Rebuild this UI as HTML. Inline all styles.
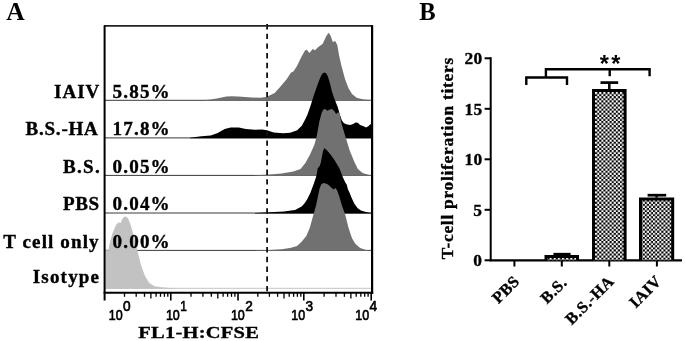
<!DOCTYPE html>
<html lang="en">
<head>
<meta charset="utf-8">
<title>Figure</title>
<style>
html,body{margin:0;padding:0;background:#fff;}
body{width:685px;height:341px;overflow:hidden;}
svg{display:block;}
</style>
</head>
<body>
<svg width="685" height="341" viewBox="0 0 685 341">
<defs><pattern id="chk" x="595.1" y="92.05" width="4.14" height="4.14" patternUnits="userSpaceOnUse"><rect width="4.14" height="4.14" fill="#000"/><rect x="0" y="0" width="2.07" height="2.07" fill="#fff"/><rect x="2.07" y="2.07" width="2.07" height="2.07" fill="#fff"/></pattern></defs>
<rect width="685" height="341" fill="#fff"/>
<g id="panelA">
<line x1="104.6" y1="100.3" x2="372.0" y2="100.3" stroke="#3a3a3a" stroke-width="1"/>
<path d="M205.0,100.0L210.6,99.6L218.0,98.3L226.4,96.6L231.7,96.2L238.0,96.6L244.9,97.1L252.0,97.5L260.7,97.8L266.0,97.0L270.0,95.3L274.7,93.0L280.5,86.4L286.4,79.4L291.1,72.6L293.4,71.4L297.0,66.0L301.6,56.6L305.2,50.3L306.8,49.8L309.4,53.1L312.7,48.9L315.0,50.3L318.0,47.3L322.7,43.7L326.2,36.2L328.6,32.7L330.5,35.5L332.8,41.9L335.2,40.9L337.3,44.9L339.1,55.5L341.5,66.0L345.0,78.9L348.5,88.3L352.0,94.1L356.7,97.7L363.7,99.5L371.0,100.0L371.0,100.7L205.0,100.7Z" fill="#717171"/>
<line x1="104.6" y1="137.9" x2="372.0" y2="137.9" stroke="#3a3a3a" stroke-width="1"/>
<path d="M190.0,137.7L201.4,136.3L210.7,135.4L217.7,133.0L224.7,129.1L230.6,127.4L238.8,127.4L245.8,129.1L255.1,129.8L262.1,129.5L266.8,130.2L273.8,132.6L283.1,133.3L290.2,132.8L297.2,130.2L301.8,125.8L305.0,119.7L307.5,114.4L310.3,106.5L313.2,97.3L316.2,88.6L319.2,80.2L321.2,75.4L322.8,73.2L324.4,72.5L326.1,73.3L327.8,76.2L329.8,82.8L331.9,91.2L333.9,97.5L335.6,101.7L337.7,107.0L339.8,114.4L341.9,120.5L344.0,123.2L347.2,124.5L350.3,124.9L353.5,123.7L355.6,122.6L357.7,122.8L360.2,124.9L363.0,126.0L366.1,127.5L368.3,126.2L370.4,124.2L371.8,123.8L371.8,137.7L371.8,138.3L190.0,138.3Z" fill="#000"/>
<line x1="104.6" y1="175.4" x2="372.0" y2="175.4" stroke="#3a3a3a" stroke-width="1"/>
<path d="M255.0,175.3L270.0,174.5L281.7,173.6L293.4,171.5L300.5,169.1L305.2,163.3L309.8,155.1L314.5,144.5L316.9,135.2L319.2,122.3L321.6,112.9L323.4,109.4L325.1,108.9L327.4,110.8L329.8,109.4L332.1,108.9L334.4,111.2L336.1,114.1L338.0,112.2L339.6,113.6L341.5,123.4L345.0,135.2L349.7,150.4L354.4,162.1L357.9,169.1L362.6,173.1L368.4,174.7L371.5,175.3L371.5,175.8L255.0,175.8Z" fill="#717171"/>
<line x1="104.6" y1="213.0" x2="372.0" y2="213.0" stroke="#3a3a3a" stroke-width="1"/>
<path d="M255.0,213.0L270.0,212.2L284.0,211.5L291.0,210.6L295.0,210.0L298.3,208.2L301.6,206.5L304.2,203.8L307.1,199.4L310.4,192.8L313.7,184.0L315.9,177.4L317.0,173.0L317.7,168.2L319.7,166.0L321.0,162.0L322.1,155.4L323.2,150.6L324.5,148.1L325.8,149.2L328.0,151.4L331.3,155.4L334.6,160.3L337.3,164.7L339.5,168.6L341.2,173.0L343.0,177.4L345.2,182.3L346.9,185.1L347.8,188.9L349.6,192.8L351.8,198.3L354.4,203.8L357.7,208.2L361.0,210.4L365.0,211.8L371.5,213.0L371.5,213.4L255.0,213.4Z" fill="#000"/>
<line x1="104.6" y1="250.4" x2="372.0" y2="250.4" stroke="#3a3a3a" stroke-width="1"/>
<path d="M255.0,250.5L270.0,250.0L281.7,249.3L291.1,247.7L297.0,246.0L301.6,241.8L306.3,235.9L309.8,227.7L313.4,214.8L315.9,206.0L317.0,201.0L318.3,194.5L319.7,188.0L321.4,184.2L323.6,183.0L325.8,183.6L328.0,184.6L330.2,186.4L332.0,188.2L333.5,189.5L335.4,188.0L337.0,190.3L339.3,196.5L341.0,202.5L342.6,207.4L345.0,213.7L348.5,227.7L352.0,238.3L355.5,244.1L360.2,248.1L366.1,250.0L371.5,250.5L371.5,250.8L255.0,250.8Z" fill="#717171"/>
<line x1="104.6" y1="288.3" x2="372.0" y2="288.3" stroke="#c4c4c4" stroke-width="1"/>
<path d="M105.4,288.2L105.4,251.2L106.9,248.5L108.2,251.2L109.5,244.6L112.2,234.0L116.1,224.8L118.7,222.2L120.6,222.9L122.7,218.2L125.3,216.3L128.0,218.2L130.6,224.8L133.3,234.0L137.2,249.9L141.2,265.7L145.1,276.2L149.1,282.8L154.4,286.3L163.6,287.6L174.2,288.2L174.2,288.7L105.4,288.7Z" fill="#c2c2c2"/>
<line x1="267.1" y1="24.0" x2="267.1" y2="292" stroke="#111" stroke-width="1.8" stroke-dasharray="5.4 4.3"/>
<line x1="104" y1="25.9" x2="373" y2="25.9" stroke="#222" stroke-width="1.7"/>
<line x1="104.6" y1="25.3" x2="104.6" y2="300.4" stroke="#000" stroke-width="2"/>
<line x1="372.1" y1="25.3" x2="372.1" y2="293.8" stroke="#000" stroke-width="2.2"/>
<line x1="103.6" y1="292.8" x2="373.2" y2="292.8" stroke="#000" stroke-width="2.1"/>
<line x1="124.5" y1="292" x2="124.5" y2="296.8" stroke="#000" stroke-width="1.3"/>
<line x1="136.2" y1="292" x2="136.2" y2="296.8" stroke="#000" stroke-width="1.3"/>
<line x1="144.5" y1="292" x2="144.5" y2="296.8" stroke="#000" stroke-width="1.3"/>
<line x1="150.9" y1="292" x2="150.9" y2="298.4" stroke="#000" stroke-width="1.3"/>
<line x1="156.1" y1="292" x2="156.1" y2="296.8" stroke="#000" stroke-width="1.3"/>
<line x1="160.5" y1="292" x2="160.5" y2="296.8" stroke="#000" stroke-width="1.3"/>
<line x1="164.4" y1="292" x2="164.4" y2="296.8" stroke="#000" stroke-width="1.3"/>
<line x1="167.8" y1="292" x2="167.8" y2="296.8" stroke="#000" stroke-width="1.3"/>
<line x1="170.8" y1="292" x2="170.8" y2="300.4" stroke="#000" stroke-width="1.6"/>
<line x1="191.0" y1="292" x2="191.0" y2="296.8" stroke="#000" stroke-width="1.3"/>
<line x1="202.9" y1="292" x2="202.9" y2="296.8" stroke="#000" stroke-width="1.3"/>
<line x1="211.3" y1="292" x2="211.3" y2="296.8" stroke="#000" stroke-width="1.3"/>
<line x1="217.8" y1="292" x2="217.8" y2="298.4" stroke="#000" stroke-width="1.3"/>
<line x1="223.1" y1="292" x2="223.1" y2="296.8" stroke="#000" stroke-width="1.3"/>
<line x1="227.6" y1="292" x2="227.6" y2="296.8" stroke="#000" stroke-width="1.3"/>
<line x1="231.5" y1="292" x2="231.5" y2="296.8" stroke="#000" stroke-width="1.3"/>
<line x1="234.9" y1="292" x2="234.9" y2="296.8" stroke="#000" stroke-width="1.3"/>
<line x1="238.0" y1="292" x2="238.0" y2="300.4" stroke="#000" stroke-width="1.6"/>
<line x1="257.8" y1="292" x2="257.8" y2="296.8" stroke="#000" stroke-width="1.3"/>
<line x1="269.4" y1="292" x2="269.4" y2="296.8" stroke="#000" stroke-width="1.3"/>
<line x1="277.6" y1="292" x2="277.6" y2="296.8" stroke="#000" stroke-width="1.3"/>
<line x1="284.0" y1="292" x2="284.0" y2="298.4" stroke="#000" stroke-width="1.3"/>
<line x1="289.2" y1="292" x2="289.2" y2="296.8" stroke="#000" stroke-width="1.3"/>
<line x1="293.6" y1="292" x2="293.6" y2="296.8" stroke="#000" stroke-width="1.3"/>
<line x1="297.4" y1="292" x2="297.4" y2="296.8" stroke="#000" stroke-width="1.3"/>
<line x1="300.8" y1="292" x2="300.8" y2="296.8" stroke="#000" stroke-width="1.3"/>
<line x1="303.8" y1="292" x2="303.8" y2="300.4" stroke="#000" stroke-width="1.6"/>
<line x1="324.1" y1="292" x2="324.1" y2="296.8" stroke="#000" stroke-width="1.3"/>
<line x1="336.0" y1="292" x2="336.0" y2="296.8" stroke="#000" stroke-width="1.3"/>
<line x1="344.4" y1="292" x2="344.4" y2="296.8" stroke="#000" stroke-width="1.3"/>
<line x1="350.9" y1="292" x2="350.9" y2="298.4" stroke="#000" stroke-width="1.3"/>
<line x1="356.2" y1="292" x2="356.2" y2="296.8" stroke="#000" stroke-width="1.3"/>
<line x1="360.8" y1="292" x2="360.8" y2="296.8" stroke="#000" stroke-width="1.3"/>
<line x1="364.7" y1="292" x2="364.7" y2="296.8" stroke="#000" stroke-width="1.3"/>
<line x1="368.1" y1="292" x2="368.1" y2="296.8" stroke="#000" stroke-width="1.3"/>
<line x1="371.2" y1="292" x2="371.2" y2="300.4" stroke="#000" stroke-width="1.6"/>
</g>
<g font-family="'Liberation Sans', Arial, sans-serif" font-size="13.5" fill="#000" stroke="#000" stroke-width="0.65">
<text x="108.7" y="320.0" font-size="14" textLength="13.9" lengthAdjust="spacingAndGlyphs">10</text><text x="123.0" y="311.1" font-size="14.6" textLength="7.6" lengthAdjust="spacingAndGlyphs">0</text>
<text x="165.9" y="320.0" font-size="14" textLength="13.9" lengthAdjust="spacingAndGlyphs">10</text><text x="180.2" y="311.1" font-size="14.6" textLength="6.6" lengthAdjust="spacingAndGlyphs">1</text>
<text x="230.9" y="320.0" font-size="14" textLength="13.9" lengthAdjust="spacingAndGlyphs">10</text><text x="245.2" y="311.1" font-size="14.6" textLength="7.6" lengthAdjust="spacingAndGlyphs">2</text>
<text x="291.3" y="320.0" font-size="14" textLength="13.9" lengthAdjust="spacingAndGlyphs">10</text><text x="305.6" y="311.1" font-size="14.6" textLength="7.6" lengthAdjust="spacingAndGlyphs">3</text>
<text x="355.3" y="320.0" font-size="14" textLength="13.9" lengthAdjust="spacingAndGlyphs">10</text><text x="369.6" y="311.1" font-size="14.6" textLength="7.6" lengthAdjust="spacingAndGlyphs">4</text>
</g>
<g font-family="'Liberation Serif', 'Times New Roman', serif" font-weight="bold" fill="#000" stroke="#000" stroke-width="0.35">
<text x="6.2" y="19.8" font-size="25.5" text-anchor="start" stroke="none">A</text>
<text x="419.2" y="19.8" font-size="24.6" text-anchor="start" stroke="none">B</text>
<text transform="translate(54.0,98.2) scale(1.06,1)" font-size="18.0" textLength="42.8" lengthAdjust="spacing">IAIV</text>
<text transform="translate(25.4,135.2) scale(1.06,1)" font-size="18.0" textLength="68.4" lengthAdjust="spacing">B.S.-HA</text>
<text transform="translate(63.0,172.7) scale(1.06,1)" font-size="18.0" textLength="34.7" lengthAdjust="spacing">B.S.</text>
<text transform="translate(63.0,210.1) scale(1.06,1)" font-size="18.0" textLength="34.0" lengthAdjust="spacing">PBS</text>
<text transform="translate(3.2,248.0) scale(1.06,1)" font-size="18.0" textLength="90.0" lengthAdjust="spacing">T cell only</text>
<text transform="translate(32.8,283.2) scale(1.06,1)" font-size="18.0" textLength="62.5" lengthAdjust="spacing">Isotype</text>
<text transform="translate(112.6,98.2) scale(1.06,1)" font-size="18.0" textLength="53.8" lengthAdjust="spacing">5.85%</text>
<text transform="translate(112.6,135.2) scale(1.06,1)" font-size="18.0" textLength="53.8" lengthAdjust="spacing">17.8%</text>
<text transform="translate(112.6,172.7) scale(1.06,1)" font-size="18.0" textLength="53.8" lengthAdjust="spacing">0.05%</text>
<text transform="translate(112.6,210.1) scale(1.06,1)" font-size="18.0" textLength="53.8" lengthAdjust="spacing">0.04%</text>
<text transform="translate(112.6,248.2) scale(1.06,1)" font-size="18.0" textLength="53.8" lengthAdjust="spacing">0.00%</text>
<text transform="translate(138.3,337.6) scale(1.17,1)" font-size="17.5" textLength="103.0" lengthAdjust="spacing">FL1-H:CFSE</text>
<text x="464.4" y="64.3" font-size="17.4" text-anchor="start" letter-spacing="0.5">20</text>
<text x="464.4" y="114.9" font-size="17.4" text-anchor="start" letter-spacing="0.5">15</text>
<text x="464.4" y="165.4" font-size="17.4" text-anchor="start" letter-spacing="0.5">10</text>
<text x="473.3" y="215.9" font-size="17.4" text-anchor="start">5</text>
<text x="473.3" y="266.4" font-size="17.4" text-anchor="start">0</text>
<text transform="translate(453.0,259.3) rotate(-90)" font-size="17.4" textLength="201.5" lengthAdjust="spacing">T-cell proliferation titers</text>
<text transform="translate(520.6,282.2) rotate(-45)" font-size="16.3" letter-spacing="0.45" text-anchor="end">PBS</text>
<text transform="translate(568.0,283.5) rotate(-45)" font-size="16.3" letter-spacing="0.45" text-anchor="end">B.S.</text>
<text transform="translate(614.9,282.3) rotate(-45)" font-size="16.3" letter-spacing="0.45" text-anchor="end">B.S.-HA</text>
<text transform="translate(662.5,282.0) rotate(-45)" font-size="16.3" letter-spacing="0.45" text-anchor="end">IAIV</text>
</g>
<text x="599.8 611.3" y="71.8" font-family="'Liberation Sans', Arial, sans-serif" font-weight="bold" font-size="23.5" fill="#000">**</text>
<g stroke="#000" fill="none">
<line x1="490.7" y1="57.2" x2="490.7" y2="261.2" stroke-width="2"/>
<line x1="489.7" y1="260.3" x2="682" y2="260.3" stroke-width="2.3"/>
<line x1="484.6" y1="260.3" x2="490.7" y2="260.3" stroke-width="2"/>
<line x1="484.6" y1="209.8" x2="490.7" y2="209.8" stroke-width="2"/>
<line x1="484.6" y1="159.3" x2="490.7" y2="159.3" stroke-width="2"/>
<line x1="484.6" y1="108.8" x2="490.7" y2="108.8" stroke-width="2"/>
<line x1="484.6" y1="58.3" x2="490.7" y2="58.3" stroke-width="2"/>
<line x1="514.4" y1="260.2" x2="514.4" y2="266.5" stroke-width="2"/>
<line x1="561.8" y1="260.2" x2="561.8" y2="266.5" stroke-width="2"/>
<line x1="609.3" y1="260.2" x2="609.3" y2="266.5" stroke-width="2"/>
<line x1="656.9" y1="260.2" x2="656.9" y2="266.5" stroke-width="2"/>
<rect x="546.00" y="256.40" width="31.50" height="3.80" fill="url(#chk)" stroke="none"/>
<path d="M546.00,260.2 V256.40 H577.50 V260.2" stroke-width="3.0" stroke-linejoin="miter"/>
<line x1="561.8" y1="254.9" x2="561.8" y2="254.2" stroke-width="2.5"/>
<line x1="553.4" y1="254.2" x2="570.6" y2="254.2" stroke-width="2.7"/>
<rect x="593.50" y="90.50" width="31.60" height="169.70" fill="url(#chk)" stroke="none"/>
<path d="M593.50,260.2 V90.50 H625.10 V260.2" stroke-width="3.0" stroke-linejoin="miter"/>
<line x1="609.3" y1="89.0" x2="609.3" y2="82.6" stroke-width="2.5"/>
<line x1="600.5" y1="82.6" x2="618.2" y2="82.6" stroke-width="2.7"/>
<rect x="640.50" y="199.10" width="32.20" height="61.10" fill="url(#chk)" stroke="none"/>
<path d="M640.50,260.2 V199.10 H672.70 V260.2" stroke-width="3.0" stroke-linejoin="miter"/>
<line x1="656.6" y1="197.6" x2="656.6" y2="195.2" stroke-width="2.5"/>
<line x1="647.6" y1="195.2" x2="666.2" y2="195.2" stroke-width="2.7"/>
<path d="M526.3,85 V77.5 H567 V85" stroke-width="2.4"/>
<path d="M545.9,77.5 V69.2 H649.6 V76.2" stroke-width="2.4"/>
<line x1="609.7" y1="69.2" x2="609.7" y2="76.2" stroke-width="2.4"/>
</g>
</svg>
</body>
</html>
